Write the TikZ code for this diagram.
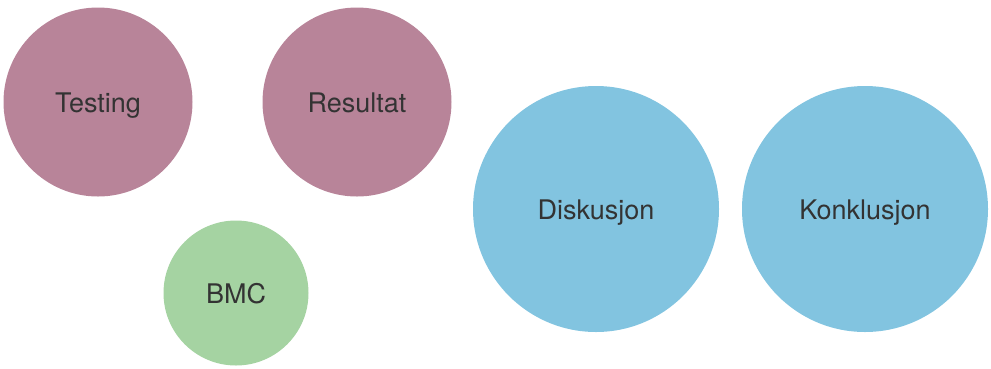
\documentclass[tikz,border=0pt]{standalone}
\usepackage{fontspec}
\setmainfont{TeX Gyre Heros}
\definecolor{mauve}{HTML}{B88499}
\definecolor{mint}{HTML}{A5D3A2}
\definecolor{sky}{HTML}{82C4E0}
\definecolor{txt}{HTML}{333333}
\begin{document}
\begin{tikzpicture}[x=1pt,y=-1pt,
  bubble/.style={circle,inner sep=0pt,text=txt,font=\fontsize{27}{32}\selectfont,
    text height=20pt,text depth=0pt}]
\useasboundingbox (0,0) rectangle (991,368);
\node[bubble,fill=mauve,minimum size=189pt] (testing) at (98,102) {Testing};
\node[bubble,fill=mauve,minimum size=189pt] (resultat) at (357,102) {Resultat};
\node[bubble,fill=mint,minimum size=145pt] (bmc) at (236,293) {BMC};
\node[bubble,fill=sky,minimum size=246pt] (diskusjon) at (596,209) {Diskusjon};
\node[bubble,fill=sky,minimum size=246pt] (konklusjon) at (865,209) {Konklusjon};
\end{tikzpicture}
\end{document}
